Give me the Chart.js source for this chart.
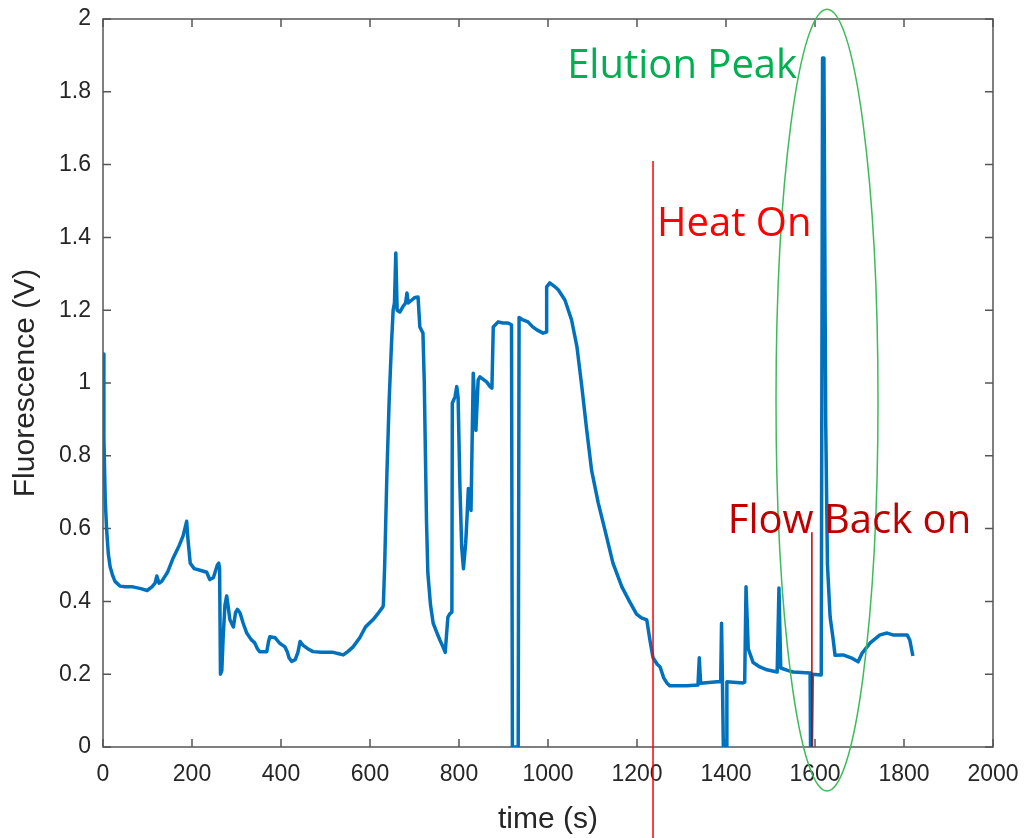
<!DOCTYPE html>
<html><head><meta charset="utf-8">
<script src="https://cdn.jsdelivr.net/npm/chart.js@4.4.1/dist/chart.umd.min.js"></script>
<style>html,body{margin:0;padding:0;background:#fff;}#wrap{width:1024px;height:838px;}</style>
</head><body><div id="wrap"><canvas id="c" width="1024" height="838"></canvas></div>
<script>
// ---- data ----
const timeS = [0,2,5,8,12,16,22,27,38,50,67,85,99,110,117,121,126,132,145,158,170,180,188,191,196,205,220,233,240,248,257,260,262,264,267,270,274,278,282,285,289,293,298,302,308,315,323,333,341,347,352,368,372,375,387,397,409,414,418,424,432,438,443,449,460,472,490,517,530,540,550,562,577,590,607,620,629,630,633,638,643,648,652,655,658,661,667,674,680,683,686,694,701,708,712,719,722,724,727,730,736,742,750,757,764,769,775,780,784,785,791,795,798,802,806,810,815,818,821,827,832,838,843,847,862,870,874,877,888,899,910,918,920,933,935,941,955,965,975,989,996,997,1004,1015,1023,1038,1053,1065,1076,1087,1098,1113,1128,1146,1166,1184,1199,1210,1222,1229,1236,1245,1252,1260,1267,1274,1312,1337,1340,1343,1380,1388,1390,1392,1394,1400,1402,1438,1442,1445,1450,1461,1476,1492,1515,1519,1523,1540,1551,1589,1590,1592,1594,1614,1617,1620,1624,1628,1634,1641,1645,1663,1683,1697,1706,1724,1746,1762,1775,1807,1813,1820];
const fluorV = [1.08,0.85,0.68,0.6,0.53,0.495,0.47,0.455,0.442,0.44,0.44,0.435,0.43,0.44,0.45,0.47,0.45,0.455,0.48,0.52,0.55,0.58,0.62,0.57,0.505,0.49,0.485,0.48,0.46,0.465,0.5,0.505,0.49,0.2,0.21,0.3,0.39,0.415,0.38,0.35,0.34,0.33,0.37,0.378,0.368,0.34,0.313,0.295,0.286,0.27,0.262,0.262,0.29,0.303,0.3,0.285,0.275,0.262,0.245,0.235,0.24,0.26,0.29,0.28,0.27,0.262,0.26,0.26,0.256,0.253,0.262,0.275,0.3,0.33,0.35,0.37,0.385,0.39,0.5,0.75,0.95,1.1,1.2,1.22,1.357,1.2,1.195,1.21,1.22,1.247,1.22,1.228,1.235,1.236,1.154,1.137,1.0,0.843,0.62,0.478,0.39,0.34,0.315,0.294,0.275,0.26,0.357,0.367,0.37,0.945,0.962,0.99,0.96,0.72,0.55,0.49,0.56,0.63,0.71,0.65,1.027,0.87,1.008,1.017,1.003,0.99,0.986,1.154,1.168,1.165,1.165,1.16,0,0,1.18,1.175,1.168,1.155,1.146,1.137,1.14,1.264,1.275,1.265,1.256,1.228,1.173,1.1,0.99,0.871,0.76,0.67,0.596,0.505,0.44,0.398,0.365,0.355,0.349,0.294,0.245,0.228,0.22,0.19,0.176,0.168,0.168,0.17,0.245,0.175,0.179,0.18,0.34,0.18,0,0,0.179,0.176,0.178,0.44,0.27,0.232,0.22,0.212,0.206,0.437,0.217,0.21,0.206,0.203,0,0,0.2,0.198,1.893,1.893,0.9,0.5,0.357,0.294,0.252,0.253,0.244,0.234,0.258,0.286,0.308,0.313,0.308,0.308,0.294,0.25];
const xTicks = [0,200,400,600,800,1000,1200,1400,1600,1800,2000];
const xTickLabels = ['0','200','400','600','800','1000','1200','1400','1600','1800','2000'];
const yTicks = [0,0.2,0.4,0.6,0.8,1,1.2,1.4,1.6,1.8,2];
const yTickLabels = ['0','0.2','0.4','0.6','0.8','1','1.2','1.4','1.6','1.8','2'];
// annotations (data coordinates)
const heatOn = {t:1236, top:1.61, bottom:-0.25, label:'Heat On', labelT:1245, labelV:1.404};
const flowBack = {t:1593, top:0.59, bottom:0, label:'Flow Back on', labelT:1404, labelV:0.588};
const elution = {cx:1627, cy:0.953, rx:114.6, ry:1.074, label:'Elution Peak', labelT:1043, labelV:1.838};

const points = timeS.map((t,i)=>({x:t,y:fluorV[i]}));

const AXIS_COLOR = '#555555';
const TEXT_COLOR = '#262626';

const boxPlugin = {
  id:'box',
  beforeDatasetsDraw(chart){
    const {ctx, chartArea:a, scales:{x,y}} = chart;
    ctx.save();
    ctx.strokeStyle = AXIS_COLOR; ctx.lineWidth = 1.5;
    ctx.strokeRect(a.left, a.top, a.right-a.left, a.bottom-a.top);
    ctx.beginPath();
    const L = 8;
    xTicks.forEach(v=>{const p=x.getPixelForValue(v);
      ctx.moveTo(p,a.bottom); ctx.lineTo(p,a.bottom-L);
      ctx.moveTo(p,a.top); ctx.lineTo(p,a.top+L);});
    yTicks.forEach(v=>{const p=y.getPixelForValue(v);
      ctx.moveTo(a.left,p); ctx.lineTo(a.left+L,p);
      ctx.moveTo(a.right,p); ctx.lineTo(a.right-L,p);});
    ctx.stroke();
    ctx.restore();
  }
};

const annoPlugin = {
  id:'anno',
  afterDatasetsDraw(chart){
    const {ctx, scales:{x,y}} = chart;
    ctx.save();
    ctx.strokeStyle = '#ff0000'; ctx.lineWidth = 1.5;
    ctx.beginPath();
    ctx.moveTo(x.getPixelForValue(heatOn.t), y.getPixelForValue(heatOn.top));
    ctx.lineTo(x.getPixelForValue(heatOn.t), y.getPixelForValue(heatOn.bottom));
    ctx.stroke();
    ctx.strokeStyle = '#c00000';
    ctx.beginPath();
    ctx.moveTo(x.getPixelForValue(flowBack.t), y.getPixelForValue(flowBack.top));
    ctx.lineTo(x.getPixelForValue(flowBack.t), y.getPixelForValue(flowBack.bottom));
    ctx.stroke();
    const cx = x.getPixelForValue(elution.cx), cy = y.getPixelForValue(elution.cy);
    const rx = x.getPixelForValue(elution.cx+elution.rx)-cx;
    const ry = cy - y.getPixelForValue(elution.cy+elution.ry);
    ctx.strokeStyle = '#3dbb5a'; ctx.lineWidth = 1.5;
    ctx.beginPath(); ctx.ellipse(cx, cy, rx, ry, 0, 0, Math.PI*2); ctx.stroke();
    ctx.font = '40px "Open Sans"';
    ctx.textBaseline = 'alphabetic'; ctx.textAlign = 'left';
    ctx.fillStyle = '#ff0000';
    ctx.fillText(heatOn.label, x.getPixelForValue(heatOn.labelT), y.getPixelForValue(heatOn.labelV));
    ctx.fillStyle = '#c00000';
    ctx.fillText(flowBack.label, x.getPixelForValue(flowBack.labelT), y.getPixelForValue(flowBack.labelV));
    ctx.fillStyle = '#00b050';
    ctx.fillText(elution.label, x.getPixelForValue(elution.labelT), y.getPixelForValue(elution.labelV));
    ctx.restore();
  }
};

const zeroPad = s => { s.paddingLeft = 0; s.paddingRight = 0; s.paddingTop = 0; s.paddingBottom = 0; };

new Chart(document.getElementById('c'), {
  type:'scatter',
  data:{datasets:[{data:points, showLine:true, borderColor:'#0072bd', backgroundColor:'#0072bd', borderWidth:3.5, pointRadius:0, tension:0, borderJoinStyle:'round'}]},
  options:{
    responsive:false, animation:false,
    layout:{padding:{top:19,right:31,left:0,bottom:0}},
    plugins:{legend:{display:false}, tooltip:{enabled:false}},
    scales:{
      x:{type:'linear', min:0, max:2000,
        afterBuildTicks:s=>{s.ticks = xTicks.map(v=>({value:v}));},
        ticks:{callback:(v,i)=>xTickLabels[i], color:TEXT_COLOR, font:{family:'"Liberation Sans", Arial', size:23}, padding:14, maxRotation:0, autoSkip:false},
        grid:{display:false, drawTicks:false}, border:{display:false},
        title:{display:true, text:'time (s)', color:TEXT_COLOR, font:{family:'"Liberation Sans", Arial', size:30}, padding:{top:0,bottom:0}},
        afterFit:s=>{s.height = 91; zeroPad(s);}
      },
      y:{type:'linear', min:0, max:2,
        afterBuildTicks:s=>{s.ticks = yTicks.map(v=>({value:v}));},
        ticks:{callback:(v,i)=>yTickLabels[i], color:TEXT_COLOR, font:{family:'"Liberation Sans", Arial', size:23}, padding:12, autoSkip:false},
        grid:{display:false, drawTicks:false}, border:{display:false},
        title:{display:true, text:'Fluorescence (V)', color:TEXT_COLOR, font:{family:'"Liberation Sans", Arial', size:30}, padding:{top:8,bottom:0}},
        afterFit:s=>{s.width = 103; zeroPad(s);}
      }
    }
  },
  plugins:[boxPlugin, annoPlugin]
});
</script></body></html>
